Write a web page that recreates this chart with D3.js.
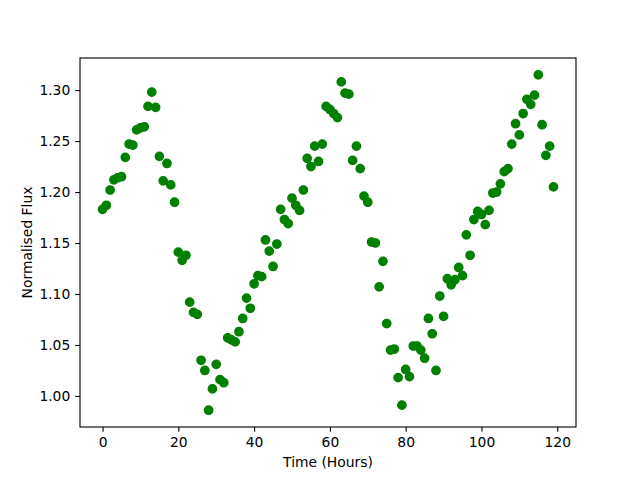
<!DOCTYPE html>
<html>
<head>
<meta charset="utf-8">
<script src="https://cdn.jsdelivr.net/npm/d3@7"></script>
<style>
  body { margin: 0; background: #fff; }
  text { font-family: "DejaVu Sans", sans-serif; }
</style>
</head>
<body>
<svg id="chart"></svg>
<script>
const width  = 640
const height = 480

// hours 0..119, one reading each
const hours = d3.range(0, 120)
const flux = [
  1.183, 1.187, 1.202, 1.212, 1.214, 1.215, 1.234, 1.247, 1.246, 1.261,
  1.263, 1.264, 1.284, 1.298, 1.283, 1.235, 1.211, 1.228, 1.207, 1.190,
  1.141, 1.133, 1.138, 1.092, 1.082, 1.080, 1.035, 1.025, 0.986, 1.007,
  1.031, 1.016, 1.013, 1.057, 1.055, 1.053, 1.063, 1.076, 1.096, 1.086,
  1.110, 1.118, 1.117, 1.153, 1.142, 1.127, 1.149, 1.183, 1.173, 1.169,
  1.194, 1.187, 1.182, 1.202, 1.233, 1.225, 1.245, 1.230, 1.247, 1.284,
  1.281, 1.277, 1.273, 1.308, 1.297, 1.296, 1.231, 1.245, 1.223, 1.196,
  1.190, 1.151, 1.150, 1.107, 1.132, 1.071, 1.045, 1.046, 1.018, 0.991,
  1.026, 1.019, 1.049, 1.049, 1.045, 1.037, 1.076, 1.061, 1.025, 1.098,
  1.078, 1.115, 1.109, 1.114, 1.126, 1.118, 1.158, 1.138, 1.173, 1.181,
  1.178, 1.168, 1.182, 1.199, 1.200, 1.208, 1.220, 1.223, 1.247, 1.267,
  1.256, 1.277, 1.291, 1.286, 1.295, 1.315, 1.266, 1.236, 1.245, 1.205
]
const xTicks = [0, 20, 40, 60, 80, 100, 120]
const yTicks = [1.00, 1.05, 1.10, 1.15, 1.20, 1.25, 1.30]

const margin = { left: 80, right: 64, top: 58, bottom: 53 }
const pt = 100 / 72

let svg = d3.select("#chart")
            .attr("width", width)
            .attr("height", height)

// matplotlib style 5% padding around data
const pad = (ext) => {
    const r = ext[1] - ext[0]
    return [ext[0] - r * 0.05, ext[1] + r * 0.05]
}

const x = d3.scaleLinear()
            .domain(pad(d3.extent(hours)))
            .range([margin.left, width - margin.right])
const y = d3.scaleLinear()
            .domain(pad(d3.extent(flux)))
            .range([height - margin.bottom, margin.top])

const tickLen = 3.5 * pt

// points
svg.append("g")
    .selectAll("circle")
    .data(hours)
    .enter().append("circle")
    .attr("cx", d => x(d))
    .attr("cy", (d, i) => y(flux[i]))
    .attr("r", 3 * pt)
    .attr("fill", "#008000")
    .attr("stroke", "#008000")
    .attr("stroke-width", pt)

// axes
const xAxis = svg.append("g")
    .attr("transform", `translate(0,${height - margin.bottom})`)
    .call(d3.axisBottom(x).tickValues(xTicks).tickSize(tickLen).tickPadding(tickLen))
const yAxis = svg.append("g")
    .attr("transform", `translate(${margin.left},0)`)
    .call(d3.axisLeft(y).tickValues(yTicks).tickFormat(d3.format(".2f")).tickSize(tickLen).tickPadding(tickLen))

for (const ax of [xAxis, yAxis]) {
    ax.select(".domain").remove()
    ax.selectAll(".tick line").attr("stroke", "#000").attr("stroke-width", 0.8 * pt)
    ax.selectAll(".tick text")
        .attr("fill", "#000")
        .style("font-size", (10 * pt) + "px")
        .style("font-family", "DejaVu Sans")
}

// frame
svg.append("rect")
    .attr("x", margin.left)
    .attr("y", margin.top)
    .attr("width", width - margin.left - margin.right)
    .attr("height", height - margin.top - margin.bottom)
    .attr("fill", "none")
    .attr("stroke", "#000")
    .attr("stroke-width", 0.8 * pt)

// labels
svg.append("text")
    .attr("x", (margin.left + width - margin.right) / 2)
    .attr("y", 467)
    .attr("text-anchor", "middle")
    .style("font-size", (10 * pt) + "px")
    .text("Time (Hours)")

svg.append("text")
    .attr("transform", `translate(32,${(margin.top + height - margin.bottom) / 2}) rotate(-90)`)
    .attr("text-anchor", "middle")
    .style("font-size", (10 * pt) + "px")
    .text("Normalised Flux")
</script>
</body>
</html>
